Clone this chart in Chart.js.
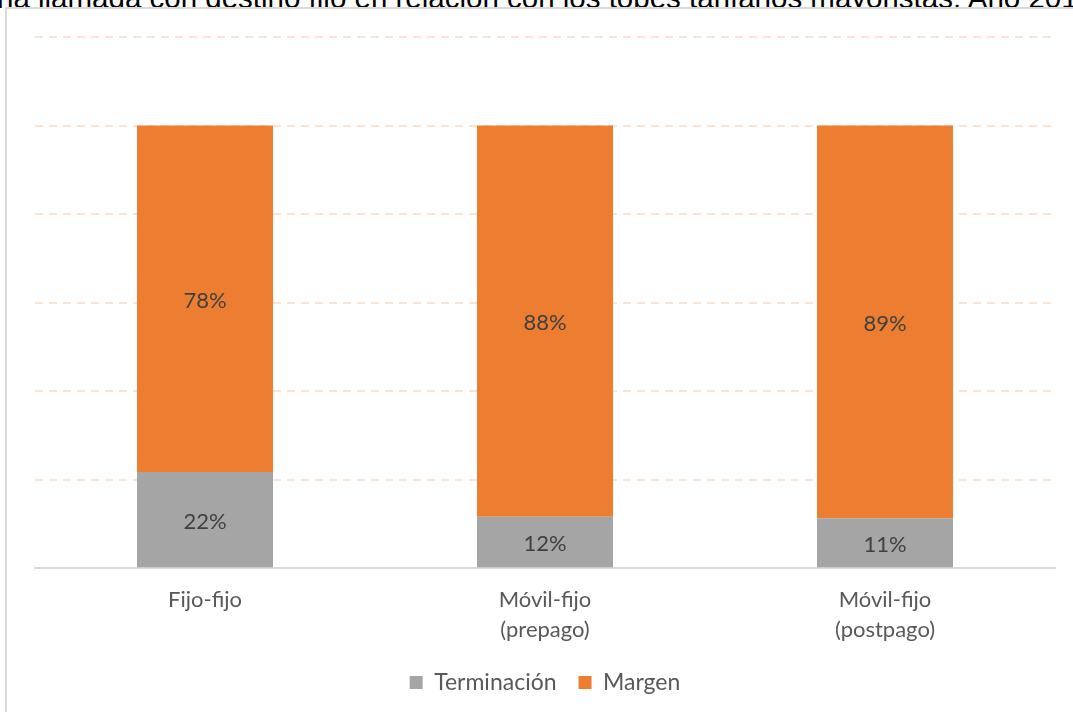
<!DOCTYPE html>
<html>
<head>
<meta charset="utf-8">
<script src="https://cdn.jsdelivr.net/npm/chart.js@4"></script>
<style>
  html, body { margin: 0; padding: 0; background: #fff; }
  body { width: 1073px; height: 712px; position: relative; overflow: hidden; }
  .title {
    position: absolute; left: -3px; top: -17px; white-space: nowrap;
    font-family: "Liberation Sans", Arial, sans-serif; font-size: 29.5px; line-height: 29px; color: #000;
  }
  .frame {
    position: absolute; left: 5px; top: 7px; width: 1100px; height: 740px;
    border: 2px solid #d9d9d9; box-sizing: border-box; background: #fff;
  }
  #chartBox { position: absolute; left: 0; top: 0; width: 1073px; height: 712px; }
</style>
</head>
<body>
<div class="title">na llamada con destino fijo en relación con los topes tarifarios mayoristas. Año 201</div>
<div class="frame"></div>
<div id="chartBox"><canvas id="myChart"></canvas></div>
<script>
const categories = [['Fijo-fijo'], ['Móvil-fijo', '(prepago)'], ['Móvil-fijo', '(postpago)']];
const terminacion = [21.7, 11.6, 11.3];
const margen = [78.3, 88.4, 88.7];

const labelFont = 'Lato';

// draws the % value in the middle of every bar segment
const segmentLabels = {
  id: 'segmentLabels',
  afterDatasetsDraw(chart) {
    const ctx = chart.ctx;
    ctx.save();
    ctx.font = '22px ' + labelFont;
    ctx.fillStyle = '#404040';
    ctx.textAlign = 'center';
    ctx.textBaseline = 'middle';
    chart.data.datasets.forEach((ds, i) => {
      chart.getDatasetMeta(i).data.forEach((bar, j) => {
        const y = (bar.y + bar.base) / 2 + 2;
        ctx.fillText(Math.round(ds.data[j]) + '%', bar.x, y);
      });
    });
    ctx.restore();
  }
};

const ctx = document.getElementById('myChart');

new Chart(ctx, {
  type: 'bar',
  data: {
    labels: categories,
    datasets: [{
      label: 'Terminación',
      data: terminacion,
      backgroundColor: '#A5A5A5',
      categoryPercentage: 1,
      barPercentage: 0.4
    }, {
      label: 'Margen',
      data: margen,
      backgroundColor: '#ED7D31',
      categoryPercentage: 1,
      barPercentage: 0.4
    }]
  },
  options: {
    responsive: true,
    maintainAspectRatio: false,
    animation: false,
    layout: {
      padding: { left: 35, right: 18, top: 37, bottom: 8 }
    },
    scales: {
      x: {
        stacked: true,
        grid: { display: false, drawTicks: false },
        border: { display: true, color: '#d9d9d9', width: 2 },
        ticks: {
          color: '#595959',
          padding: 17,
          font: { family: labelFont, size: 22, lineHeight: 1.36 }
        },
        afterFit(scale) {
          scale.height -= 13;
        }
      },
      y: {
        stacked: true,
        min: 0,
        max: 120,
        ticks: { display: false, stepSize: 20 },
        border: { display: false, dash: [8, 6] },
        grid: {
          drawTicks: false,
          color: (c) => c.tick && c.tick.value === 0 ? 'rgba(0,0,0,0)' : '#FCE3D2',
          lineWidth: 2
        }
      }
    },
    plugins: {
      legend: {
        position: 'bottom',
        labels: {
          color: '#595959',
          boxWidth: 13,
          boxHeight: 13,
          padding: 22,
          font: { family: labelFont, size: 23 }
        }
      },
      tooltip: { enabled: false }
    }
  },
  plugins: [segmentLabels]
});
</script>
</body>
</html>
